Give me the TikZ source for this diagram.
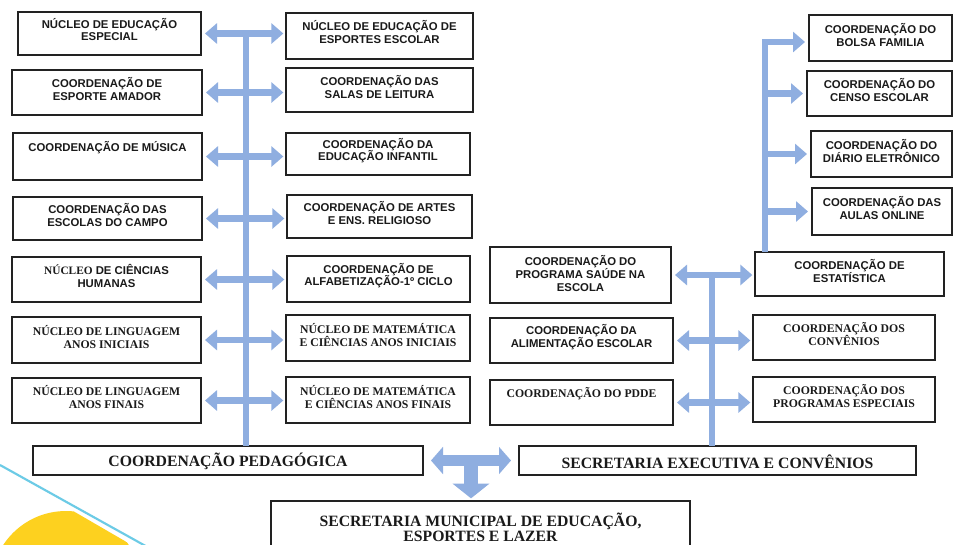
\documentclass[tikz,border=0pt]{standalone}
\usepackage{fontspec}
\usetikzlibrary{arrows.meta,calc}
\newfontfamily\af{Liberation Sans}
\newfontfamily\tf{Liberation Serif}
\definecolor{ablue}{HTML}{8FAEE0}
\definecolor{boxline}{HTML}{222222}
\definecolor{txtc}{HTML}{1A1A1A}
\definecolor{cyanl}{HTML}{6CCBE6}
\definecolor{yel}{HTML}{FDD11F}
\tikzset{
  box/.style={draw=boxline, line width=1.3pt, fill=white, rectangle, inner sep=0pt, outer sep=0pt},
  atxt/.style={font=\af\bfseries\fontsize{8.5}{9.6}\selectfont, align=center, text=txtc, inner sep=0pt},
  ttxt/.style={font=\tf\bfseries\fontsize{8.8}{9.6}\selectfont, align=center, text=txtc, inner sep=0pt},
  btxt/.style={font=\tf\bfseries\fontsize{11.8}{11.4}\selectfont, align=center, text=txtc, inner sep=0pt},
  dbl/.style={draw=ablue, line width=5pt, {Triangle[length=9pt,width=15pt]}-{Triangle[length=9pt,width=15pt]}, shorten <=3pt, shorten >=2pt},
  sarr/.style={draw=ablue, line width=5pt, -{Triangle[length=9pt,width=15pt]}, line join=miter, shorten >=3pt},
  bar/.style={draw=ablue, line width=4.5pt},
  tdbl/.style={draw=ablue, line width=8pt, {Triangle[length=9pt,width=20pt]}-{Triangle[length=9pt,width=20pt]}, shorten <=6pt, shorten >=6pt},
  tdown/.style={draw=ablue, line width=10pt, -{Triangle[length=11pt,width=27pt]}, shorten >=2pt},
}
\newcommand\obox[8]{%
  \pgfmathsetmacro\obw{(#4-#2)*0.75}%
  \pgfmathsetmacro\obh{(#5-#3)*0.75}%
  \node[box, minimum width=\obw pt, minimum height=\obh pt, anchor=north west] (#1) at (#2,#3) {};
  \node[#6, yshift=#7] (#1t) at (#1.center) {#8};
}
\begin{document}
\begin{tikzpicture}[x=0.75pt,y=-0.75pt]
\useasboundingbox (0,0) rectangle (955,544);
\clip (0,0) rectangle (955,544);
\fill[white] (0,0) rectangle (955,544);
% decoration bottom-left
\begin{scope}
  \clip (0,468.6) -- (250,613.6) -- (250,700) -- (0,700) -- cycle;
  \fill[yel] (66,586) circle (75);
\end{scope}
\draw[cyanl, line width=1.6pt] (0,465) -- (160,554);

% left group boxes
\obox{L1}{18}{12}{201}{55}{atxt}{3pt}{NÚCLEO DE EDUCAÇÃO\\ESPECIAL}
\obox{L2}{12}{70}{202}{115}{atxt}{2.5pt}{COORDENAÇÃO DE\\ESPORTE AMADOR}
\obox{L3}{13}{133}{202}{180}{atxt}{2.5pt}{COORDENAÇÃO DE MÚSICA\\\mbox{}}
\obox{L4}{13}{197}{202}{240}{atxt}{2.5pt}{COORDENAÇÃO DAS\\ESCOLAS DO CAMPO}
\obox{L5}{12}{257}{201}{302}{atxt}{2.5pt}{{\tf NÚCLEO} DE CIÊNCIAS\\HUMANAS}
\obox{L6}{12}{317}{201}{363}{ttxt}{2.5pt}{NÚCLEO DE LINGUAGEM\\ANOS INICIAIS}
\obox{L7}{12}{378}{201}{423}{ttxt}{2.5pt}{NÚCLEO DE LINGUAGEM\\ANOS FINAIS}
\obox{R1}{286}{13}{473}{59}{atxt}{3pt}{NÚCLEO DE EDUCAÇÃO DE\\ESPORTES ESCOLAR}
\obox{R2}{286}{68}{473}{112}{atxt}{2.5pt}{COORDENAÇÃO DAS\\SALAS DE LEITURA}
\obox{R3}{286}{133}{470}{175}{atxt}{2.5pt}{COORDENAÇÃO DA\\EDUCAÇÃO INFANTIL}
\obox{R4}{287}{195}{472}{238}{atxt}{2.5pt}{COORDENAÇÃO DE ARTES\\E ENS. RELIGIOSO}
\obox{R5}{287}{256}{470}{302}{atxt}{2.5pt}{COORDENAÇÃO DE\\ALFABETIZAÇÃO-1º CICLO}
\obox{R6}{286}{315}{470}{361}{ttxt}{2.5pt}{NÚCLEO DE MATEMÁTICA\\E CIÊNCIAS ANOS INICIAIS}
\obox{R7}{286}{377}{470}{423}{ttxt}{2.5pt}{NÚCLEO DE MATEMÁTICA\\E CIÊNCIAS ANOS FINAIS}

% bottom boxes
\obox{CP}{33}{446}{423}{475}{btxt}{-1pt}{COORDENAÇÃO PEDAGÓGICA}
\obox{SE}{519}{446}{916}{475}{btxt}{-1pt}{SECRETARIA EXECUTIVA E CONVÊNIOS}
\obox{SM}{271}{501}{690}{565}{btxt}{4.5pt}{SECRETARIA MUNICIPAL DE EDUCAÇÃO,\\ESPORTES E LAZER}

% top right boxes
\obox{BF}{809}{15}{952}{61}{atxt}{2.5pt}{COORDENAÇÃO DO\\BOLSA FAMILIA}
\obox{CE}{807}{71}{952}{116}{atxt}{2.5pt}{COORDENAÇÃO DO\\CENSO ESCOLAR}
\obox{DE}{811}{131}{952}{177}{atxt}{2.5pt}{COORDENAÇÃO DO\\DIÁRIO ELETRÔNICO}
\obox{AO}{812}{188}{952}{235}{atxt}{2.5pt}{COORDENAÇÃO DAS\\AULAS ONLINE}

% lower right boxes
\obox{SA}{490}{247}{671}{303}{atxt}{1pt}{COORDENAÇÃO DO\\PROGRAMA SAÚDE NA\\ESCOLA}
\obox{AL}{490}{318}{673}{363}{atxt}{2.5pt}{COORDENAÇÃO DA\\ALIMENTAÇÃO ESCOLAR}
\obox{PD}{490}{380}{673}{425}{ttxt}{2.5pt}{COORDENAÇÃO DO PDDE\\\mbox{}}
\obox{ES}{755}{252}{944}{296}{atxt}{2.5pt}{COORDENAÇÃO DE\\ESTATÍSTICA}
\obox{CV}{753}{315}{935}{360}{ttxt}{2.5pt}{COORDENAÇÃO DOS\\CONVÊNIOS}
\obox{PE}{753}{377}{935}{422}{ttxt}{2.5pt}{COORDENAÇÃO DOS\\PROGRAMAS ESPECIAIS}

% left group connectors
\coordinate (lbar) at (246,36);
\draw[bar] (lbar) -- (lbar |- CP.north);
\foreach \i in {1,...,7}{
  \draw[dbl] (L\i.east) -- (L\i.east -| R\i.west);
}

% top right connectors
\coordinate (rbar) at (765,0);
\draw[sarr] (rbar |- ES.north) |- ([yshift=-3pt]BF.west);
\draw[sarr] (rbar |- CE.west) -- (CE.west);
\draw[sarr] (rbar |- DE.west) -- (DE.west);
\draw[sarr] (rbar |- AO.west) -- (AO.west);

% lower right connectors
\coordinate (mbar) at (712,0);
\draw[bar] (mbar |- SA.east) -- (mbar |- SE.north);
\draw[dbl] (SA.east) -- (SA.east -| ES.west);
\draw[dbl] (AL.east) -- (AL.east -| CV.west);
\draw[dbl] (PD.east) -- (PD.east -| PE.west);

% bottom T arrow
\coordinate (tmid) at ($(CP.east)!0.5!(SE.west)$);
\draw[tdown] (tmid) -- (tmid |- SM.north);
\draw[tdbl] (CP.east) -- (SE.west);
\end{tikzpicture}
\end{document}
